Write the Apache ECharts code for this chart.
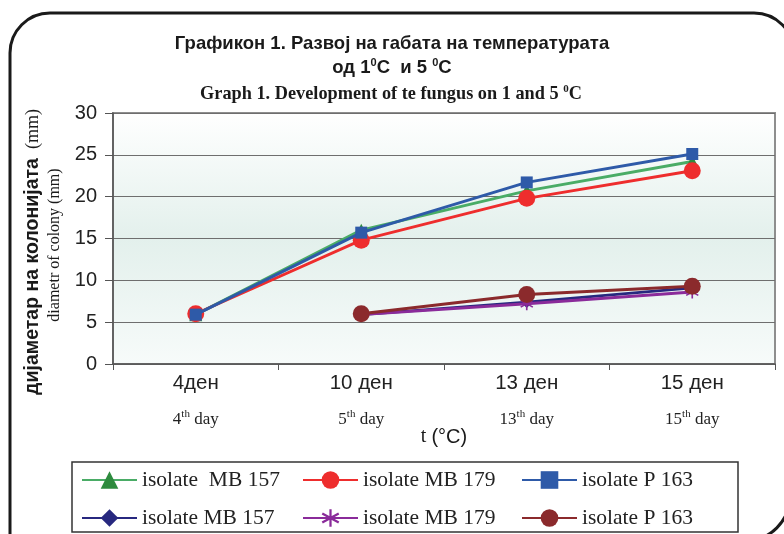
<!DOCTYPE html>
<html>
<head>
<meta charset="utf-8">
<script src="https://cdn.jsdelivr.net/npm/echarts@6/dist/echarts.min.js"></script>
<style>html,body{margin:0;padding:0;background:#fff;}#c{width:784px;height:534px;}</style>
</head>
<body>
<div id="c"></div>
<script>
const categories = ['4ден', '10 ден', '13 ден', '15 ден'];
const dayNums = ['4', '5', '13', '15'];
const yTicks = [0, 5, 10, 15, 20, 25, 30];
const seriesNames = ['isolate  MB 157', 'isolate MB 179', 'isolate P 163',
                     'isolate MB 157\u200b', 'isolate MB 179\u200b', 'isolate P 163\u200b'];
const mb157a = [5.9, 16.0, 20.7, 24.2];
const mb179a = [6.0, 14.8, 19.8, 23.1];
const p163a  = [5.9, 15.7, 21.7, 25.1];
const mb157b = [null, 5.9, 7.4, 9.1];
const mb179b = [null, 5.9, 7.2, 8.6];
const p163b  = [null, 6.0, 8.3, 9.3];

const SANS = 'Liberation Sans';
const SERIF = 'Liberation Serif';
const asterisk = 'path://M8.8,0L11.2,0L11.2,20L8.8,20Z M0.6,5.9L1.8,3.8L19.4,14.1L18.2,16.2Z M18.2,3.8L19.4,5.9L1.8,16.2L0.6,14.1Z';

const chart = echarts.init(document.getElementById('c'));

function mk(name, data, color, lineColor, symbol, size, z) {
  return {
    name: name, type: 'line', data: data, symbol: symbol, symbolSize: size,
    connectNulls: false, z: z,
    lineStyle: { color: lineColor, width: 2.9 },
    itemStyle: { color: color },
    emphasis: { disabled: true }
  };
}

const option = {
  animation: false,
  backgroundColor: '#ffffff',
  grid: {
    left: 113, right: 9, top: 113, bottom: 170, show: true,
    borderColor: '#8e8e8e', borderWidth: 2,
    backgroundColor: new echarts.graphic.LinearGradient(0, 0, 0, 1, [
      { offset: 0, color: '#ffffff' },
      { offset: 0.5, color: '#e3f0ec' },
      { offset: 1, color: '#f7fbfa' }
    ])
  },
  xAxis: {
    type: 'category', data: categories, boundaryGap: true,
    axisLine: { show: true, lineStyle: { color: '#555', width: 1.5 } },
    axisTick: { show: true, length: 6, alignWithLabel: false, lineStyle: { color: '#555' } },
    axisLabel: {
      margin: 8, color: '#222',
      formatter: function (v, i) {
        return '{a|' + v + '}\n{g|}\n{b|' + dayNums[i] + '}{s|th}{b| day}';
      },
      rich: {
        a: { fontFamily: SANS, fontSize: 20.5, lineHeight: 22, color: '#222' },
        g: { lineHeight: 15 },
        b: { fontFamily: SERIF, fontSize: 17, lineHeight: 22, color: '#222' },
        s: { fontFamily: SERIF, fontSize: 11, lineHeight: 22, verticalAlign: 'top', color: '#222' }
      }
    }
  },
  yAxis: {
    type: 'value', min: yTicks[0], max: yTicks[yTicks.length - 1], interval: 5,
    axisLine: { show: true, lineStyle: { color: '#555', width: 1.5 } },
    axisTick: { show: true, length: 8, lineStyle: { color: '#555' } },
    axisLabel: { margin: 16, fontFamily: SANS, fontSize: 20, color: '#222' },
    splitLine: { show: true, lineStyle: { color: '#6e6e6e', width: 1 } }
  },
  legend: [
    { data: [seriesNames[0], seriesNames[3]], left: 81 },
    { data: [seriesNames[1], seriesNames[4]], left: 302 },
    { data: [seriesNames[2], seriesNames[5]], left: 521 }
  ].map(function (l) {
    return Object.assign({
      top: 469, orient: 'vertical', itemGap: 16, itemWidth: 55, itemHeight: 22,
      padding: 0, selectedMode: false,
      textStyle: { fontFamily: SERIF, fontSize: 21.5, color: '#222', lineHeight: 22 }
    }, l);
  }),
  series: [
    mk(seriesNames[0], mb157a, '#2e8b3e', '#4aac66', 'triangle', 13, 2),
    mk(seriesNames[1], mb179a, '#ee2d2d', '#ee2d2d', 'circle', 17, 3),
    mk(seriesNames[2], p163a, '#2e5aa8', '#2e5aa8', 'rect', 12, 4),
    mk(seriesNames[3], mb157b, '#27287f', '#27287f', 'diamond', 12, 2),
    mk(seriesNames[4], mb179b, '#8a2b9a', '#8a2b9a', asterisk, 13, 3),
    mk(seriesNames[5], p163b, '#8b2a2c', '#8b2a2c', 'circle', 17, 4)
  ],
  graphic: [
    { type: 'rect', shape: { x: 10, y: 13, width: 784, height: 580, r: 40 },
      style: { fill: null, stroke: '#1a1a1a', lineWidth: 3 }, z: 1 },
    { type: 'arc', shape: { cx: 745, cy: 496, r: 45, startAngle: 0, endAngle: Math.PI / 2 },
      style: { fill: null, stroke: '#1a1a1a', lineWidth: 3 }, z: 1 },
    { type: 'rect', shape: { x: 72, y: 462, width: 666, height: 70 },
      style: { fill: null, stroke: '#333', lineWidth: 1.5 }, z: 1 },
    { type: 'text', x: 392, y: 44, style: {
        text: 'Графикон 1. Развој на габата на температурата', align: 'center', verticalAlign: 'middle',
        font: 'bold 18.5px "Liberation Sans"', fill: '#1a1a1a' } },
    { type: 'text', x: 392, y: 68, style: {
        text: '{a|од 1}{s|0}{a|C  и 5 }{s|0}{a|C}', align: 'center', verticalAlign: 'middle',
        rich: {
          a: { font: 'bold 18.5px "Liberation Sans"', fill: '#1a1a1a', lineHeight: 22 },
          s: { font: 'bold 11px "Liberation Sans"', fill: '#1a1a1a', lineHeight: 22, verticalAlign: 'top' }
        } } },
    { type: 'text', x: 391, y: 94, style: {
        text: '{a|Graph 1. Development of te fungus on 1 and 5 }{s|0}{a|C}', align: 'center', verticalAlign: 'middle',
        rich: {
          a: { font: 'bold 18.3px "Liberation Serif"', fill: '#1a1a1a', lineHeight: 20 },
          s: { font: 'bold 11px "Liberation Serif"', fill: '#1a1a1a', lineHeight: 20, verticalAlign: 'top' }
        } } },
    { type: 'text', x: 33, y: 252, rotation: Math.PI / 2, style: {
        text: '{a|дијаметар на колонијата}{b|  (mm)}', align: 'center', verticalAlign: 'middle',
        rich: {
          a: { font: 'bold 19.5px "Liberation Sans"', fill: '#1a1a1a' },
          b: { font: '18px "Liberation Serif"', fill: '#1a1a1a' }
        } } },
    { type: 'text', x: 55, y: 245, rotation: Math.PI / 2, style: {
        text: 'diametr of colony (mm)', align: 'center', verticalAlign: 'middle',
        font: '16px "Liberation Serif"', fill: '#1a1a1a' } },
    { type: 'text', x: 444, y: 437, style: {
        text: '{a|t }{b|(°C)}', align: 'center', verticalAlign: 'middle',
        rich: {
          a: { font: '20px "Liberation Serif"', fill: '#1a1a1a' },
          b: { font: '20px "Liberation Sans"', fill: '#1a1a1a' }
        } } }
  ]
};
chart.setOption(option);
</script>
</body>
</html>
